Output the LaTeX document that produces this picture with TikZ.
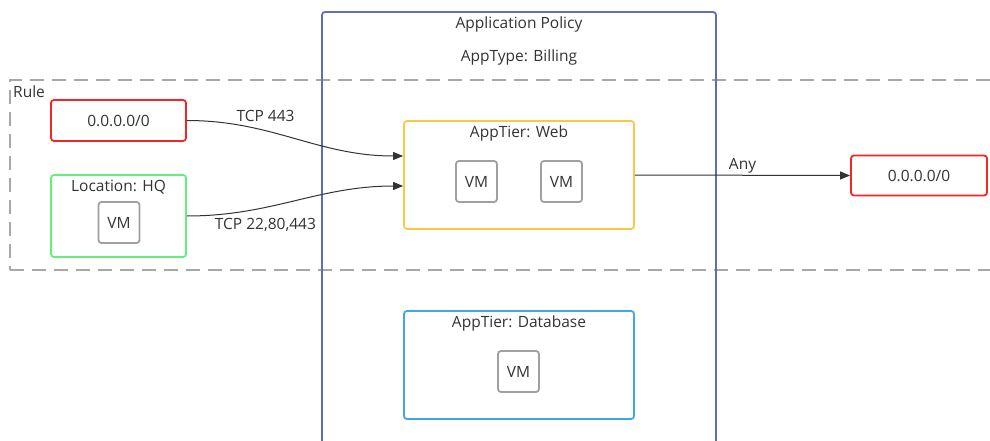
\documentclass[tikz,border=0pt]{standalone}
\usepackage{fontspec}
\setmainfont{Open Sans}
\usetikzlibrary{arrows.meta}

\definecolor{txt}{HTML}{333333}
\definecolor{policyblue}{HTML}{5A6FC0}
\definecolor{rulegray}{HTML}{A8A8A8}
\definecolor{ipred}{HTML}{F52525}
\definecolor{hqgreen}{HTML}{66EE7A}
\definecolor{webyellow}{HTML}{F8C848}
\definecolor{dbblue}{HTML}{40A8E0}
\definecolor{vmgray}{HTML}{A0A0A0}
\definecolor{linegray}{HTML}{333333}

\begin{document}
\begin{tikzpicture}[
    x=1pt, y=-1pt,
    every node/.style={font=\fontsize{15.5}{18}\selectfont, text=txt},
    box/.style={draw, rounded corners=3pt, line width=1.8pt, inner sep=0pt},
    vm/.style={draw=vmgray, rounded corners=3pt, line width=1.8pt, minimum size=41pt, inner sep=0pt},
    flow/.style={-{Triangle[length=10pt,width=8pt]}, draw=linegray, line width=1pt},
    title/.style={inner sep=0pt}
]
\useasboundingbox (0,0) rectangle (990,441);
\clip (0,0) rectangle (990,441);

% Rule area (dashed)
\node[draw=rulegray, line width=1.8pt, dash pattern=on 14pt off 8pt,
      minimum width=1000pt, minimum height=190pt] (rule) at (510,175) {};
\node[title, anchor=west] (rulelbl) at (13,92) {Rule};

% Application policy
\node[box, draw=policyblue, minimum width=394pt, minimum height=448pt] (policy) at (519,236) {};
\node[title] (policylbl) at (519,24) {Application Policy};
\node[title] (apptype) at (519,57) {AppType: Billing};

% Sources
\node[box, draw=ipred, minimum width=135pt, minimum height=41pt] (src) at (118.5,120.5) {0.0.0.0/0};
\node[box, draw=hqgreen, minimum width=135pt, minimum height=82pt] (hq) at (118.5,216) {};
\node[title] (hqlbl) at (118.5,187) {Location: HQ};
\node[vm] (hqvm) at (119,222.5) {VM};

% Web tier
\node[box, draw=webyellow, minimum width=230pt, minimum height=108pt] (web) at (519,175) {};
\node[title] (weblbl) at (519,133) {AppTier: Web};
\node[vm] (webvm1) at (476.5,181.5) {VM};
\node[vm] (webvm2) at (561.5,181.5) {VM};

% Database tier
\node[box, draw=dbblue, minimum width=230pt, minimum height=108pt] (db) at (519,365) {};
\node[title] (dblbl) at (519,323) {AppTier: Database};
\node[vm] (dbvm) at (518.5,371.5) {VM};

% Destination
\node[box, draw=ipred, minimum width=136pt, minimum height=40pt] (dst) at (919,175.5) {0.0.0.0/0};

% Flows
\draw[flow] (src.east) to[out=0, in=180]
    node[pos=0.2, anchor=south west, inner sep=2pt] (tcp443) {TCP 443} ([yshift=19pt]web.west);
\draw[flow] (hq.east) to[out=0, in=180]
    node[pos=0.1, anchor=north west, inner sep=3pt] (tcpmany) {TCP 22,80,443} ([yshift=-11pt]web.west);
\draw[flow] (web.east) -- node[above, inner sep=2pt] (any) {Any} (dst.west);

\end{tikzpicture}
\end{document}
